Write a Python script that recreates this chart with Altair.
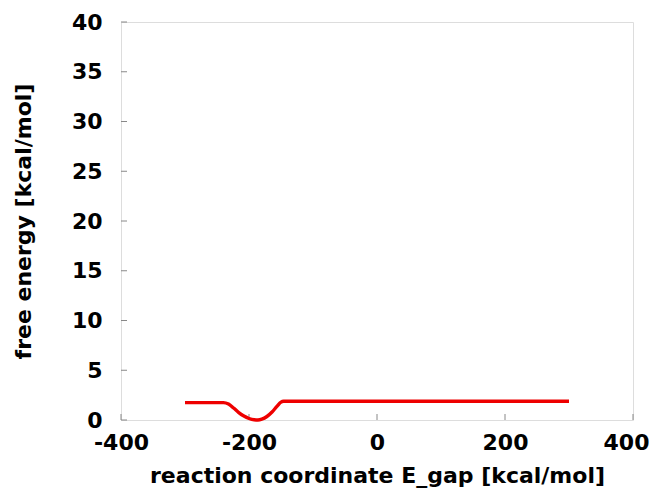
import altair as alt
import pandas as pd

# data
egap = [-300, -280, -260, -240, -232, -224, -216, -208, -200, -192, -186, -180, -172, -164, -156, -150, -146, -140, -100, 0, 100, 200, 300]
free_energy = [1.75, 1.75, 1.75, 1.75, 1.6, 1.2, 0.75, 0.4, 0.15, 0.02, 0.0, 0.08, 0.35, 0.8, 1.4, 1.8, 1.88, 1.88, 1.88, 1.88, 1.88, 1.88, 1.88]

x_ticks = [-400, -200, 0, 200, 400]
y_ticks = [0, 5, 10, 15, 20, 25, 30, 35, 40]

W, H = 512, 398
FONT = "DejaVu Sans"
LBL = "datum.value < 0 ? '-' + abs(datum.value) : '' + datum.value"

df = pd.DataFrame({"x": egap, "y": free_energy})
xt = pd.DataFrame({"x": x_ticks})
yt = pd.DataFrame({"y": y_ticks})

xscale = alt.Scale(domain=[-400, 400], nice=False, zero=False)
yscale = alt.Scale(domain=[0, 40], nice=False, zero=False)

common = dict(ticks=False, grid=False, domain=False, labelFlush=False,
              labelFontSize=22, labelFontWeight="bold", labelFont=FONT, labelColor="black",
              titleFontSize=22, titleFontWeight="bold", titleFont=FONT, titleColor="black",
              labelExpr=LBL)

line = alt.Chart(df).mark_line(color="#ee0000", strokeWidth=3.4, interpolate="monotone").encode(
    x=alt.X("x:Q", scale=xscale,
            axis=alt.Axis(title="reaction coordinate E_gap [kcal/mol]", values=x_ticks,
                          labelPadding=12, titlePadding=12,
                          labelOffset={"condition": {"test": "datum.value == 400", "value": -7}, "value": 0},
                          **common)),
    y=alt.Y("y:Q", scale=yscale,
            axis=alt.Axis(title="free energy [kcal/mol]", values=y_ticks,
                          labelPadding=19, titlePadding=36, **common)),
)

xtick = alt.Chart(xt).mark_rule(color="#888888", strokeWidth=1).encode(
    x=alt.X("x:Q", scale=xscale), y=alt.value(H), y2=alt.value(H - 6)
)
ytick = alt.Chart(yt).mark_rule(color="#888888", strokeWidth=1).encode(
    y=alt.Y("y:Q", scale=yscale), x=alt.value(0), x2=alt.value(6)
)

chart = alt.layer(xtick, ytick, line).properties(
    width=W, height=H,
    autosize=alt.AutoSizeParams(type="none"),
    padding={"left": 113, "top": 14, "right": 16, "bottom": 69},
).configure_view(stroke="#888888", strokeWidth=1.5).configure(background="white")

chart.save("out.html", embed_options={"renderer": "svg", "actions": False})
